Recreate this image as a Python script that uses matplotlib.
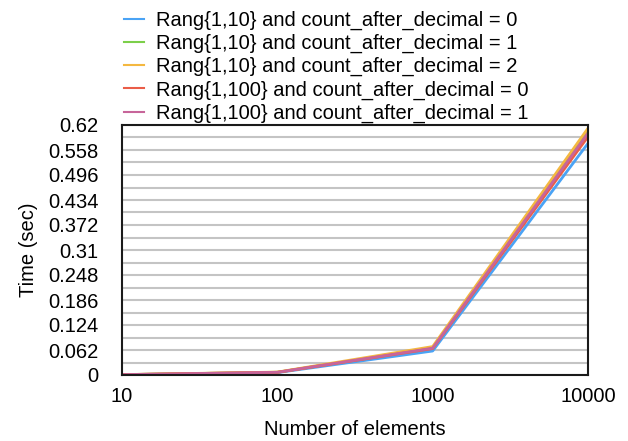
import matplotlib
matplotlib.use("Agg")
import matplotlib.pyplot as plt
import numpy as np

n_elements = [10, 100, 1000, 10000]
labels = [
    "Rang{1,10} and count_after_decimal = 0",
    "Rang{1,10} and count_after_decimal = 1",
    "Rang{1,10} and count_after_decimal = 2",
    "Rang{1,100} and count_after_decimal = 0",
    "Rang{1,100} and count_after_decimal = 1",
]
s_10_0 = [0.0008, 0.0060, 0.0595, 0.5746]
s_10_1 = [0.0009, 0.0068, 0.0670, 0.6085]
s_10_2 = [0.0010, 0.0072, 0.0705, 0.6120]
s_100_0 = [0.0009, 0.0066, 0.0655, 0.5910]
s_100_1 = [0.0009, 0.0067, 0.0665, 0.6000]
series = [s_10_0, s_10_1, s_10_2, s_100_0, s_100_1]
colors = ["#4aa3f5", "#7ccf4a", "#f4b840", "#ea5d48", "#c7659a"]
ytick_vals = [0, 0.062, 0.124, 0.186, 0.248, 0.31, 0.372, 0.434, 0.496, 0.558, 0.62]
ytick_labels = ["0", "0.062", "0.124", "0.186", "0.248", "0.31", "0.372", "0.434", "0.496", "0.558", "0.62"]
xtick_labels = ["10", "100", "1000", "10000"]

plt.rcParams['font.family'] = ['Liberation Sans', 'DejaVu Sans']
fs = 14.5

fig = plt.figure(figsize=(6.28, 4.41), dpi=100)
ax = fig.add_axes([122/628, 66/441, 466/628, 250/441])

order = [4, 3, 0, 1, 2]
lines = {}
for i in order:
    ln, = ax.plot(n_elements, series[i], color=colors[i], lw=2, label=labels[i], zorder=3 + i)
    lines[i] = ln

ax.set_xscale('log')
ax.set_xlim(10, 10000)
ax.set_ylim(0, 0.62)
ax.set_xticks(n_elements)
ax.set_xticklabels(xtick_labels, fontsize=fs)
ax.xaxis.set_minor_locator(matplotlib.ticker.NullLocator())
ax.set_yticks(ytick_vals)
ax.set_yticklabels(ytick_labels, fontsize=fs)
minor = [v + 0.031 for v in ytick_vals[:-1]]
ax.set_yticks(minor, minor=True)
ax.tick_params(axis='both', which='both', length=0)
ax.tick_params(axis='x', pad=9)
ax.tick_params(axis='y', pad=17)
ax.grid(axis='y', which='both', color='#c4c4c4', lw=1.5, zorder=1)
for sp in ax.spines.values():
    sp.set_color('#1a1a1a')
    sp.set_linewidth(1.5)
    sp.set_zorder(10)

ax.set_xlabel("Number of elements", fontsize=fs, labelpad=10)
ax.set_ylabel("Time (sec)", fontsize=fs, labelpad=7)

handles = [lines[i] for i in range(5)]
leg = ax.legend(handles, labels, loc='lower left', bbox_to_anchor=(0.0, 1.0),
                frameon=False, fontsize=fs, handlelength=1.0, handletextpad=0.6,
                labelspacing=0.2, borderaxespad=0.1, borderpad=0.0)
for h in leg.get_lines():
    h.set_linewidth(1.5)

fig.savefig("out.png", dpi=100)
